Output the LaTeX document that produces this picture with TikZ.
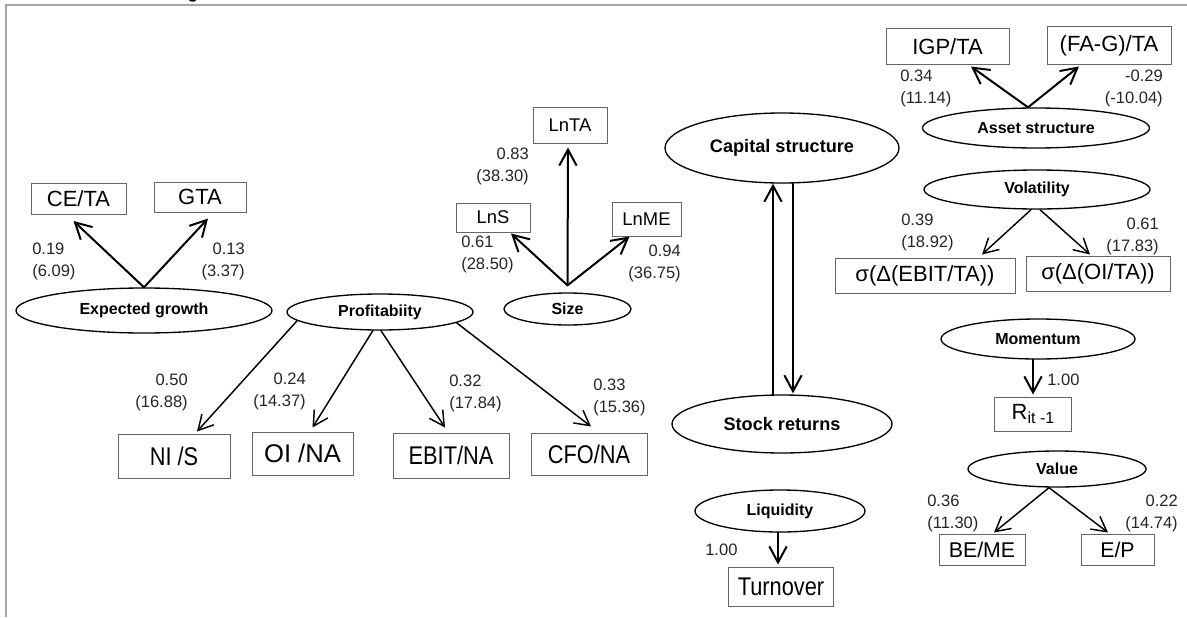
\documentclass[tikz,border=0pt]{standalone}
\usepackage{fontspec}
\setmainfont{Liberation Sans}
\newfontfamily\condfont{Liberation Sans}[FakeStretch=0.85]
\usetikzlibrary{arrows.meta,shapes.geometric,calc}
\begin{document}
\begin{tikzpicture}[x=0.75pt,y=-0.75pt,
  bx/.style 2 args={draw=black!60, line width=0.75pt, rectangle, inner sep=0pt,
     minimum width=#1*0.75pt, minimum height=#2*0.75pt, font=\fontsize{16.5}{18}\selectfont},
  bxs/.style={font=\fontsize{13.8}{15}\selectfont},
  bxc/.style={font=\condfont\fontsize{19.2}{21}\selectfont},
  el/.style 2 args={draw=black, line width=1pt, ellipse, inner sep=0pt,
     minimum width=#1*0.75pt, minimum height=#2*0.75pt, font=\bfseries\fontsize{12}{14}\selectfont},
  elb/.style={font=\bfseries\fontsize{13.6}{15}\selectfont},
  arr/.style={line width=1.5pt, line cap=round, -{Straight Barb[length=12pt,width=13pt]}},
  arrt/.style={line width=1.1pt, line cap=round, -{Straight Barb[length=11pt,width=12pt]}},
  num/.style={inner sep=0pt, font=\fontsize{12.4}{16.5}\selectfont, text=black!85},
  numl/.style={num, anchor=west, align=left},
  numr/.style={num, anchor=east, align=right}]
\useasboundingbox (0,0) rectangle (1187,617);
\fill[white] (0,0) rectangle (1187,617);
% frame
\draw[black!35, line width=1.5pt] (1187,5) -- (5.5,5) -- (5.5,617);
\node[anchor=base, inner sep=0pt, font=\bfseries\fontsize{13}{14}\selectfont] (gfrag) at (193,-1.5) {g};

% Expected growth
\node[bx={95}{31}] (ceta) at (78.5,198.5) {CE/TA};
\node[bx={92}{30}] (gta) at (200,197) {GTA};
\node[el={256}{45}] (eg) at (144,310.5) {Expected growth};
\draw[arr] (eg.north) -- ($(ceta.south)+(-5,6.5)$);
\draw[arr] (eg.north) -- ($(gta.south)+(8,6)$);
\node[numl] (l1) at (32,261) {0.19\\(6.09)};
\node[numr] (l2) at (245,261) {0.13\\(3.37)};

% Size
\node[bx={74}{36}, bxs] (lnta) at (570,125) {LnTA};
\node[bx={74}{29}, bxs] (lns) at (493,217.5) {LnS};
\node[bx={69}{34}, bxs] (lnme) at (646.5,219) {LnME};
\node[el={127}{32}] (size) at (567.5,309) {Size};
\draw[arr] ($(size.north)+(0,-7)$) -- ($(lnta.south)+(-2,4)$);
\draw[arr] ($(size.north)+(0,-7)$) -- ($(lns.south)+(18,1)$);
\draw[arr] ($(size.north)+(0,-7)$) -- ($(lnme.south)+(-17,0)$);
\node[numr] (l3) at (529,166.5) {0.83\\(38.30)};
\node[numl] (l4) at (461,254) {0.61\\(28.50)};
\node[numr] (l5) at (681,263.5) {0.94\\(36.75)};

% Profitability
\node[el={186}{36}] (prof) at (380,312) {Profitabiity};
\node[bx={112}{44}, bxc] (nis) at (174,456) {NI /S};
\node[bx={101}{43}, font=\fontsize{19.2}{21}\selectfont] (oina) at (302.5,453.5) {OI /NA};
\node[bx={116}{45}, bxc] (ebit) at (451,455.5) {EBIT/NA};
\node[bx={116}{42}, bxc] (cfo) at (589,454) {CFO/NA};
\draw[arrt] (prof.186) -- ($(nis.north)+(23,-2)$);
\draw[arrt] (prof.249) -- ($(oina.north)+(10,-4)$);
\draw[arrt] (prof.273) -- ($(ebit.north)+(-6,-5)$);
\draw[arrt] (prof.352) -- ($(cfo.north)+(2,-6)$);
\node[numr] (l6) at (188,392) {0.50\\(16.88)};
\node[numr] (l7) at (306,391) {0.24\\(14.37)};
\node[numl] (l8) at (449,393) {0.32\\(17.84)};
\node[numl] (l9) at (593,397.5) {0.33\\(15.36)};

% Capital structure / Stock returns
\node[el={234}{70}, elb] (cap) at (782,148) {Capital structure};
\node[el={220}{58}, elb] (stock) at (782,424) {Stock returns};
\draw[arr] ($(stock.north)+(-9,1)$) -- ($(cap.south)+(-9,0)$);
\draw[arr] ($(cap.south)+(11,0)$) -- ($(stock.north)+(11,-1)$);

% Liquidity
\node[el={170}{42}] (liq) at (780,511) {Liquidity};
\node[bx={105}{39}, bxc] (turn) at (781,586.5) {Turnover};
\draw[arr] ($(liq.south)+(-2,0)$) -- ($(turn.north)+(-3,-2)$);
\node[numl] (l10) at (705,550) {1.00};

% Asset structure
\node[bx={123}{36}] (igp) at (947.5,47) {IGP/TA};
\node[bx={124}{38}] (fag) at (1109,46) {(FA-G)/TA};
\node[el={227}{40}] (asset) at (1036,128) {Asset structure};
\draw[arr] ($(asset.north)+(-8,0)$) -- ($(igp.south)+(23.5,1)$);
\draw[arr] ($(asset.north)+(-8,0)$) -- ($(fag.south)+(-30,1)$);
\node[numl] (l11) at (900,88) {0.34\\(11.14)};
\node[numr] (l12) at (1163,88) {-0.29\\(-10.04)};

% Volatility
\node[el={226}{39}] (vol) at (1037,189.5) {Volatility};
\node[bx={180}{35}] (sebit) at (925,275.5) {σ(Δ(EBIT/TA))};
\node[bx={144}{35}] (soi) at (1098,273.5) {σ(Δ(OI/TA))};
\draw[arrt] ($(vol.south)+(-6,0)$) -- ($(sebit.north)+(57,-3)$);
\draw[arrt] ($(vol.south)+(3,0)$) -- ($(soi.north)+(-8,-1)$);
\node[numl] (l13) at (901,232) {0.39\\(18.92)};
\node[numr] (l14) at (1159,236) {0.61\\(17.83)};

% Momentum
\node[el={194}{40}] (mom) at (1038,339) {Momentum};
\node[bx={77}{34}] (rit) at (1033,414) {R\raisebox{-0.35ex}{\fontsize{12}{13}\selectfont it -1}};
\draw[arr] ($(mom.south)+(-5,0)$) -- ($(rit.north)+(0,-2)$);
\node[numl] (l15) at (1047,380) {1.00};

% Value
\node[el={178}{36}] (val) at (1057,469) {Value};
\node[bx={86}{31}, font=\fontsize{16}{18}\selectfont] (beme) at (982,549.5) {BE/ME};
\node[bx={73}{31}, font=\fontsize{16}{18}\selectfont] (ep) at (1117.5,549.5) {E/P};
\draw[arrt] ($(val.south)+(-8,0)$) -- ($(beme.north)+(12,-1)$);
\draw[arrt] ($(val.south)+(-8,0)$) -- ($(ep.north)+(-9.5,-1)$);
\node[numl] (l16) at (927,513.5) {0.36\\(11.30)};
\node[numr] (l17) at (1178,513.5) {0.22\\(14.74)};
\end{tikzpicture}
\end{document}
